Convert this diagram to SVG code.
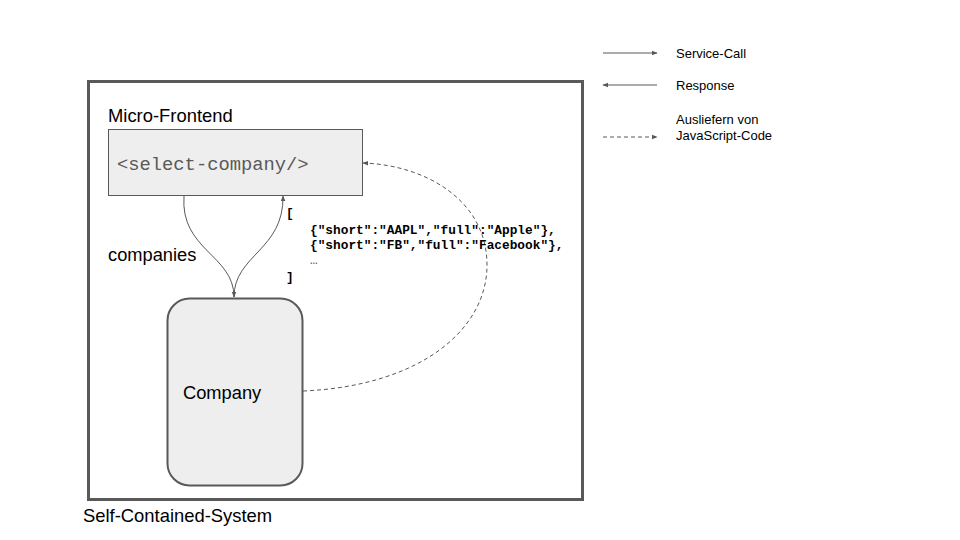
<svg xmlns="http://www.w3.org/2000/svg" width="960" height="540" viewBox="0 0 960 540">
  <style>
    .sans { font-family: "Liberation Sans", Arial, sans-serif; fill: #000; }
    .mono { font-family: "Liberation Mono", "Courier New", monospace; }
    .conn { fill: none; stroke: #595959; stroke-width: 1; }
    .dash { stroke-dasharray: 4 3; }
  </style>
  <defs>
    <marker id="arr" viewBox="0 0 10 10" refX="9" refY="5" markerWidth="6" markerHeight="6" orient="auto-start-reverse" markerUnits="userSpaceOnUse">
      <path d="M0,1 L10,5 L0,9 z" fill="#595959"/>
    </marker>
  </defs>
  <rect width="960" height="540" fill="#fff"/>

  <!-- Legend -->
  <g id="legend">
    <line class="conn" x1="603" y1="53" x2="657" y2="53" marker-end="url(#arr)"/>
    <text class="sans" x="676" y="58" font-size="13">Service-Call</text>
    <line class="conn" x1="657" y1="85" x2="603" y2="85" marker-end="url(#arr)"/>
    <text class="sans" x="676" y="90" font-size="13">Response</text>
    <line class="conn dash" x1="603" y1="137" x2="657" y2="137" marker-end="url(#arr)"/>
    <text class="sans" x="676" y="124" font-size="13">Ausliefern von</text>
    <text class="sans" x="676" y="140" font-size="13">JavaScript-Code</text>
  </g>

  <!-- Self-Contained-System -->
  <g id="scs">
    <rect x="88.5" y="81.5" width="494" height="418" fill="none" stroke="#595959" stroke-width="3"/>
    <text class="sans" x="83" y="522" font-size="18.4">Self-Contained-System</text>
  </g>

  <!-- Micro-Frontend -->
  <g id="micro-frontend">
    <text class="sans" x="108" y="122" font-size="18.4">Micro-Frontend</text>
    <rect x="108.5" y="129.5" width="254" height="66" fill="#eeeeee" stroke="#595959" stroke-width="1"/>
    <text class="mono" x="117" y="170" font-size="18.8" fill="#595959">&lt;select-company/&gt;</text>
  </g>

  <!-- Company -->
  <g id="company">
    <rect x="167.5" y="298.5" width="135" height="187" rx="22" fill="#eeeeee" stroke="#595959" stroke-width="2"/>
    <text class="sans" x="183" y="399" font-size="18.3">Company</text>
  </g>

  <!-- Connectors -->
  <g id="connectors">
    <path class="conn" d="M184,196 C180,250 234,255 234,297" marker-end="url(#arr)"/>
    <path class="conn" d="M234,297 C234,255 284,250 283,196" marker-end="url(#arr)"/>
    <path class="conn dash" d="M303,391 C420,386 487,330 487,265 C487,200 425,165 363,163" marker-end="url(#arr)"/>
  </g>

  <!-- Labels -->
  <g id="labels">
    <text class="sans" x="108" y="261" font-size="18.3">companies</text>
    <g class="mono" font-size="12.8" font-weight="bold" fill="#000">
      <text x="286" y="217">[</text>
      <text x="310" y="234">{"short":"AAPL","full":"Apple"},</text>
      <text x="310" y="249">{"short":"FB","full":"Facebook"},</text>
      <text x="310" y="264" font-weight="normal" fill="#595959">…</text>
      <text x="286" y="281">]</text>
    </g>
  </g>
</svg>
